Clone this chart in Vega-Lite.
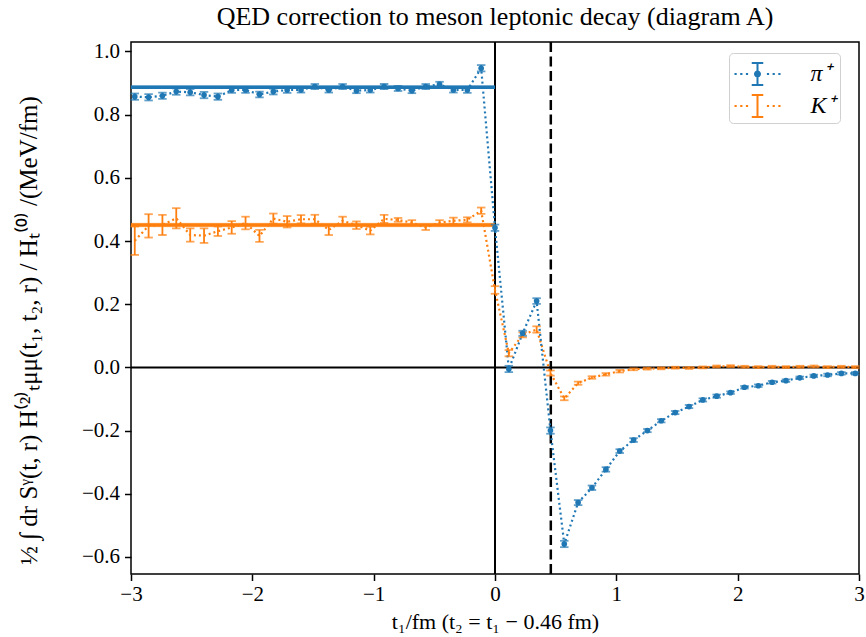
{
  "$schema": "https://vega.github.io/schema/vega-lite/v6.json",
  "width": 728,
  "height": 532,
  "autosize": "none",
  "padding": {"left": 131, "top": 42, "right": 7, "bottom": 63},
  "background": "white",
  "title": {"text": "QED correction to meson leptonic decay (diagram A)", "font": "Liberation Serif", "fontSize": 26, "fontWeight": "normal", "color": "black", "anchor": "middle", "frame": "group", "offset": -11, "baseline": "alphabetic"},
  "datasets": {
    "pts": [
      {"m": "K⁺", "t": -2.969, "v": 0.401, "e": 0.045},
      {"m": "K⁺", "t": -2.855, "v": 0.448, "e": 0.037},
      {"m": "K⁺", "t": -2.741, "v": 0.451, "e": 0.032},
      {"m": "K⁺", "t": -2.627, "v": 0.472, "e": 0.032},
      {"m": "K⁺", "t": -2.512, "v": 0.419, "e": 0.021},
      {"m": "K⁺", "t": -2.398, "v": 0.417, "e": 0.023},
      {"m": "K⁺", "t": -2.284, "v": 0.431, "e": 0.015},
      {"m": "K⁺", "t": -2.170, "v": 0.443, "e": 0.02},
      {"m": "K⁺", "t": -2.056, "v": 0.457, "e": 0.02},
      {"m": "K⁺", "t": -1.941, "v": 0.416, "e": 0.019},
      {"m": "K⁺", "t": -1.827, "v": 0.471, "e": 0.016},
      {"m": "K⁺", "t": -1.713, "v": 0.461, "e": 0.018},
      {"m": "K⁺", "t": -1.599, "v": 0.469, "e": 0.013},
      {"m": "K⁺", "t": -1.485, "v": 0.469, "e": 0.014},
      {"m": "K⁺", "t": -1.370, "v": 0.435, "e": 0.016},
      {"m": "K⁺", "t": -1.256, "v": 0.464, "e": 0.013},
      {"m": "K⁺", "t": -1.142, "v": 0.450, "e": 0.012},
      {"m": "K⁺", "t": -1.028, "v": 0.433, "e": 0.012},
      {"m": "K⁺", "t": -0.914, "v": 0.470, "e": 0.013},
      {"m": "K⁺", "t": -0.799, "v": 0.467, "e": 0.006},
      {"m": "K⁺", "t": -0.685, "v": 0.458, "e": 0.008},
      {"m": "K⁺", "t": -0.571, "v": 0.443, "e": 0.008},
      {"m": "K⁺", "t": -0.457, "v": 0.458, "e": 0.008},
      {"m": "K⁺", "t": -0.343, "v": 0.464, "e": 0.01},
      {"m": "K⁺", "t": -0.228, "v": 0.467, "e": 0.008},
      {"m": "K⁺", "t": -0.114, "v": 0.496, "e": 0.01},
      {"m": "K⁺", "t": 0, "v": 0.245, "e": 0.012},
      {"m": "K⁺", "t": 0.114, "v": 0.045, "e": 0.01},
      {"m": "K⁺", "t": 0.228, "v": 0.103, "e": 0.008},
      {"m": "K⁺", "t": 0.343, "v": 0.120, "e": 0.01},
      {"m": "K⁺", "t": 0.457, "v": -0.018, "e": 0.008},
      {"m": "K⁺", "t": 0.571, "v": -0.098, "e": 0.006},
      {"m": "K⁺", "t": 0.685, "v": -0.050, "e": 0.005},
      {"m": "K⁺", "t": 0.799, "v": -0.032, "e": 0.004},
      {"m": "K⁺", "t": 0.914, "v": -0.022, "e": 0.004},
      {"m": "K⁺", "t": 1.028, "v": -0.012, "e": 0.004},
      {"m": "K⁺", "t": 1.142, "v": -0.006, "e": 0.003},
      {"m": "K⁺", "t": 1.256, "v": -0.004, "e": 0.003},
      {"m": "K⁺", "t": 1.370, "v": -0.003, "e": 0.003},
      {"m": "K⁺", "t": 1.485, "v": -0.001, "e": 0.003},
      {"m": "K⁺", "t": 1.599, "v": -0.002, "e": 0.003},
      {"m": "K⁺", "t": 1.713, "v": 0.000, "e": 0.003},
      {"m": "K⁺", "t": 1.827, "v": 0.003, "e": 0.003},
      {"m": "K⁺", "t": 1.941, "v": 0.004, "e": 0.003},
      {"m": "K⁺", "t": 2.056, "v": 0.002, "e": 0.003},
      {"m": "K⁺", "t": 2.170, "v": 0.001, "e": 0.003},
      {"m": "K⁺", "t": 2.284, "v": 0.002, "e": 0.003},
      {"m": "K⁺", "t": 2.398, "v": 0.001, "e": 0.003},
      {"m": "K⁺", "t": 2.512, "v": 0.002, "e": 0.003},
      {"m": "K⁺", "t": 2.627, "v": 0.003, "e": 0.003},
      {"m": "K⁺", "t": 2.741, "v": 0.001, "e": 0.003},
      {"m": "K⁺", "t": 2.855, "v": 0.002, "e": 0.003},
      {"m": "K⁺", "t": 2.969, "v": 0.001, "e": 0.003},
      {"m": "π⁺", "t": -2.969, "v": 0.857, "e": 0.01},
      {"m": "π⁺", "t": -2.855, "v": 0.855, "e": 0.01},
      {"m": "π⁺", "t": -2.741, "v": 0.860, "e": 0.01},
      {"m": "π⁺", "t": -2.627, "v": 0.873, "e": 0.01},
      {"m": "π⁺", "t": -2.512, "v": 0.871, "e": 0.01},
      {"m": "π⁺", "t": -2.398, "v": 0.862, "e": 0.01},
      {"m": "π⁺", "t": -2.284, "v": 0.857, "e": 0.01},
      {"m": "π⁺", "t": -2.170, "v": 0.878, "e": 0.009},
      {"m": "π⁺", "t": -2.056, "v": 0.878, "e": 0.009},
      {"m": "π⁺", "t": -1.941, "v": 0.864, "e": 0.009},
      {"m": "π⁺", "t": -1.827, "v": 0.873, "e": 0.009},
      {"m": "π⁺", "t": -1.713, "v": 0.878, "e": 0.009},
      {"m": "π⁺", "t": -1.599, "v": 0.878, "e": 0.008},
      {"m": "π⁺", "t": -1.485, "v": 0.889, "e": 0.008},
      {"m": "π⁺", "t": -1.370, "v": 0.878, "e": 0.008},
      {"m": "π⁺", "t": -1.256, "v": 0.889, "e": 0.008},
      {"m": "π⁺", "t": -1.142, "v": 0.876, "e": 0.008},
      {"m": "π⁺", "t": -1.028, "v": 0.878, "e": 0.008},
      {"m": "π⁺", "t": -0.914, "v": 0.889, "e": 0.008},
      {"m": "π⁺", "t": -0.799, "v": 0.883, "e": 0.008},
      {"m": "π⁺", "t": -0.685, "v": 0.876, "e": 0.008},
      {"m": "π⁺", "t": -0.571, "v": 0.889, "e": 0.008},
      {"m": "π⁺", "t": -0.457, "v": 0.896, "e": 0.008},
      {"m": "π⁺", "t": -0.343, "v": 0.878, "e": 0.008},
      {"m": "π⁺", "t": -0.228, "v": 0.878, "e": 0.009},
      {"m": "π⁺", "t": -0.114, "v": 0.947, "e": 0.01},
      {"m": "π⁺", "t": 0, "v": 0.442, "e": 0.01},
      {"m": "π⁺", "t": 0.114, "v": -0.005, "e": 0.01},
      {"m": "π⁺", "t": 0.228, "v": 0.108, "e": 0.008},
      {"m": "π⁺", "t": 0.343, "v": 0.210, "e": 0.009},
      {"m": "π⁺", "t": 0.457, "v": -0.200, "e": 0.01},
      {"m": "π⁺", "t": 0.571, "v": -0.559, "e": 0.01},
      {"m": "π⁺", "t": 0.685, "v": -0.428, "e": 0.008},
      {"m": "π⁺", "t": 0.799, "v": -0.381, "e": 0.007},
      {"m": "π⁺", "t": 0.914, "v": -0.323, "e": 0.007},
      {"m": "π⁺", "t": 1.028, "v": -0.265, "e": 0.006},
      {"m": "π⁺", "t": 1.142, "v": -0.230, "e": 0.006},
      {"m": "π⁺", "t": 1.256, "v": -0.200, "e": 0.005},
      {"m": "π⁺", "t": 1.370, "v": -0.169, "e": 0.005},
      {"m": "π⁺", "t": 1.485, "v": -0.143, "e": 0.005},
      {"m": "π⁺", "t": 1.599, "v": -0.124, "e": 0.005},
      {"m": "π⁺", "t": 1.713, "v": -0.103, "e": 0.005},
      {"m": "π⁺", "t": 1.827, "v": -0.091, "e": 0.005},
      {"m": "π⁺", "t": 1.941, "v": -0.080, "e": 0.004},
      {"m": "π⁺", "t": 2.056, "v": -0.063, "e": 0.004},
      {"m": "π⁺", "t": 2.170, "v": -0.058, "e": 0.004},
      {"m": "π⁺", "t": 2.284, "v": -0.047, "e": 0.004},
      {"m": "π⁺", "t": 2.398, "v": -0.042, "e": 0.004},
      {"m": "π⁺", "t": 2.512, "v": -0.033, "e": 0.004},
      {"m": "π⁺", "t": 2.627, "v": -0.027, "e": 0.004},
      {"m": "π⁺", "t": 2.741, "v": -0.024, "e": 0.004},
      {"m": "π⁺", "t": 2.855, "v": -0.019, "e": 0.004},
      {"m": "π⁺", "t": 2.969, "v": -0.019, "e": 0.004}
    ],
    "fit": [
      {"m": "π⁺", "t": -3, "t2": 0, "v": 0.887, "lo": 0.881, "hi": 0.893},
      {"m": "K⁺", "t": -3, "t2": 0, "v": 0.451, "lo": 0.444, "hi": 0.458}
    ]
  },
  "layer": [
    {
      "data": {"values": [{"v": 0}]},
      "mark": {"type": "rule", "color": "black", "strokeWidth": 2},
      "encoding": {
        "y": {"field": "v", "type": "quantitative", "scale": {"domain": [-0.654, 1.03], "nice": false, "zero": false}, "title": "½ ∫ dr Sᵞ(t, r) H⁽²⁾ₜμμ(t₁, t₂, r) / Hₜ⁽⁰⁾ /(MeV/fm)"}
      }
    },
    {
      "data": {"values": [{"t": 0}]},
      "mark": {"type": "rule", "color": "black", "strokeWidth": 2},
      "encoding": {
        "x": {"field": "t", "type": "quantitative", "scale": {"domain": [-3, 3], "nice": false, "zero": false}, "title": "t₁/fm (t₂ = t₁ − 0.46 fm)"}
      }
    },
    {
      "data": {"values": [{"t": 0.46}]},
      "mark": {"type": "rule", "color": "black", "strokeWidth": 2.5, "strokeDash": [10, 4.5]},
      "encoding": {
        "x": {"field": "t", "type": "quantitative", "title": "t₁/fm (t₂ = t₁ − 0.46 fm)"}
      }
    },
    {
      "data": {"name": "fit"},
      "mark": {"type": "rect", "opacity": 0.35},
      "encoding": {
        "x": {"field": "t", "type": "quantitative", "title": "t₁/fm (t₂ = t₁ − 0.46 fm)"},
        "x2": {"field": "t2"},
        "y": {"field": "lo", "type": "quantitative", "title": "½ ∫ dr Sᵞ(t, r) H⁽²⁾ₜμμ(t₁, t₂, r) / Hₜ⁽⁰⁾ /(MeV/fm)"},
        "y2": {"field": "hi"},
        "color": {"field": "m", "type": "nominal", "scale": {"domain": ["π⁺", "K⁺"], "range": ["#1f77b4", "#ff7f0e"]}}
      }
    },
    {
      "data": {"name": "fit"},
      "mark": {"type": "rule", "strokeWidth": 3.5},
      "encoding": {
        "x": {"field": "t", "type": "quantitative", "title": "t₁/fm (t₂ = t₁ − 0.46 fm)"},
        "x2": {"field": "t2"},
        "y": {"field": "v", "type": "quantitative", "title": "½ ∫ dr Sᵞ(t, r) H⁽²⁾ₜμμ(t₁, t₂, r) / Hₜ⁽⁰⁾ /(MeV/fm)"},
        "color": {"field": "m", "type": "nominal"}
      }
    },
    {
      "data": {"name": "pts"},
      "mark": {"type": "line", "strokeWidth": 2.2, "strokeDash": [2, 3]},
      "encoding": {
        "x": {"field": "t", "type": "quantitative", "title": "t₁/fm (t₂ = t₁ − 0.46 fm)"},
        "y": {"field": "v", "type": "quantitative", "title": "½ ∫ dr Sᵞ(t, r) H⁽²⁾ₜμμ(t₁, t₂, r) / Hₜ⁽⁰⁾ /(MeV/fm)"},
        "color": {
          "field": "m", "type": "nominal",
          "legend": {
            "title": null, "orient": "none", "legendX": 598, "legendY": 11,
            "padding": 5, "cornerRadius": 4, "strokeColor": "#d0d0d0", "fillColor": "white",
            "symbolSize": 1024, "symbolStrokeWidth": 0, "symbolOffset": 7.5, "labelOffset": 37, "rowPadding": 4,
            "labelFont": "Liberation Serif", "labelFontStyle": "italic", "labelFontSize": 24, "labelColor": "black",
            "labelExpr": "datum.label + '\u00a0\u00a0\u00a0\u00a0'",
            "encode": {
              "symbols": {
                "update": {
                  "shape": {"signal": "datum.value === 'π⁺' ? 'M-1.438,-0.069h0.138v0.138h-0.138zM-1.081,-0.069h0.138v0.138h-0.138zM-0.725,-0.069h0.138v0.138h-0.138zM0.587,-0.069h0.138v0.138h-0.138zM0.944,-0.069h0.138v0.138h-0.138zM1.3,-0.069h0.138v0.138h-0.138zM-0.0625,-0.75h0.125v1.5h-0.125zM-0.36,-0.75h0.72v0.125h-0.72zM-0.36,0.625h0.72v0.125h-0.72zM-0.22,0a0.22,0.22 0 1,1 0.44,0a0.22,0.22 0 1,1 -0.44,0z' : 'M-1.438,-0.069h0.138v0.138h-0.138zM-1.081,-0.069h0.138v0.138h-0.138zM-0.725,-0.069h0.138v0.138h-0.138zM0.587,-0.069h0.138v0.138h-0.138zM0.944,-0.069h0.138v0.138h-0.138zM1.3,-0.069h0.138v0.138h-0.138zM-0.0625,-0.75h0.125v1.5h-0.125zM-0.36,-0.75h0.72v0.125h-0.72zM-0.36,0.625h0.72v0.125h-0.72z'"},
                  "fill": {"signal": "scale('color', datum.value)"},
                  "fillOpacity": {"value": 1},
                  "opacity": {"value": 1},
                  "stroke": {"value": "transparent"},
                  "strokeWidth": {"value": 0}
                }
              }
            }
          }
        }
      }
    },
    {
      "data": {"name": "pts"},
      "mark": {"type": "errorbar", "ticks": true, "size": 8.5, "thickness": 1.8},
      "encoding": {
        "x": {"field": "t", "type": "quantitative", "title": "t₁/fm (t₂ = t₁ − 0.46 fm)"},
        "y": {"field": "v", "type": "quantitative", "title": "½ ∫ dr Sᵞ(t, r) H⁽²⁾ₜμμ(t₁, t₂, r) / Hₜ⁽⁰⁾ /(MeV/fm)"},
        "yError": {"field": "e"},
        "color": {"field": "m", "type": "nominal"}
      }
    },
    {
      "data": {"name": "pts"},
      "transform": [{"filter": "datum.m === 'π⁺'"}],
      "mark": {"type": "point", "filled": true, "size": 32, "opacity": 1, "color": "#1f77b4"},
      "encoding": {
        "x": {"field": "t", "type": "quantitative", "title": "t₁/fm (t₂ = t₁ − 0.46 fm)"},
        "y": {"field": "v", "type": "quantitative", "title": "½ ∫ dr Sᵞ(t, r) H⁽²⁾ₜμμ(t₁, t₂, r) / Hₜ⁽⁰⁾ /(MeV/fm)"}
      }
    }
  ],
  "config": {
    "view": {"stroke": "black", "strokeWidth": 1.5},
    "font": "Liberation Serif",
    "axis": {"domain": false, "grid": false, "ticks": true, "tickColor": "black", "tickWidth": 1.5, "tickSize": 6.5, "labelColor": "black", "labelFont": "Liberation Serif", "labelFontSize": 21, "titleFont": "Liberation Serif", "titleFontSize": 25, "titleFontWeight": "normal", "titleColor": "black", "labelFlush": false},
    "axisX": {"labelPadding": 3, "titleX": 364, "titleY": 47, "titleBaseline": "middle", "tickCount": 6, "titleFontSize": 22},
    "axisY": {"labelPadding": 5, "titleX": -103, "titleY": 288, "titleAngle": -90, "titleBaseline": "middle", "tickCount": 9}
  }
}
